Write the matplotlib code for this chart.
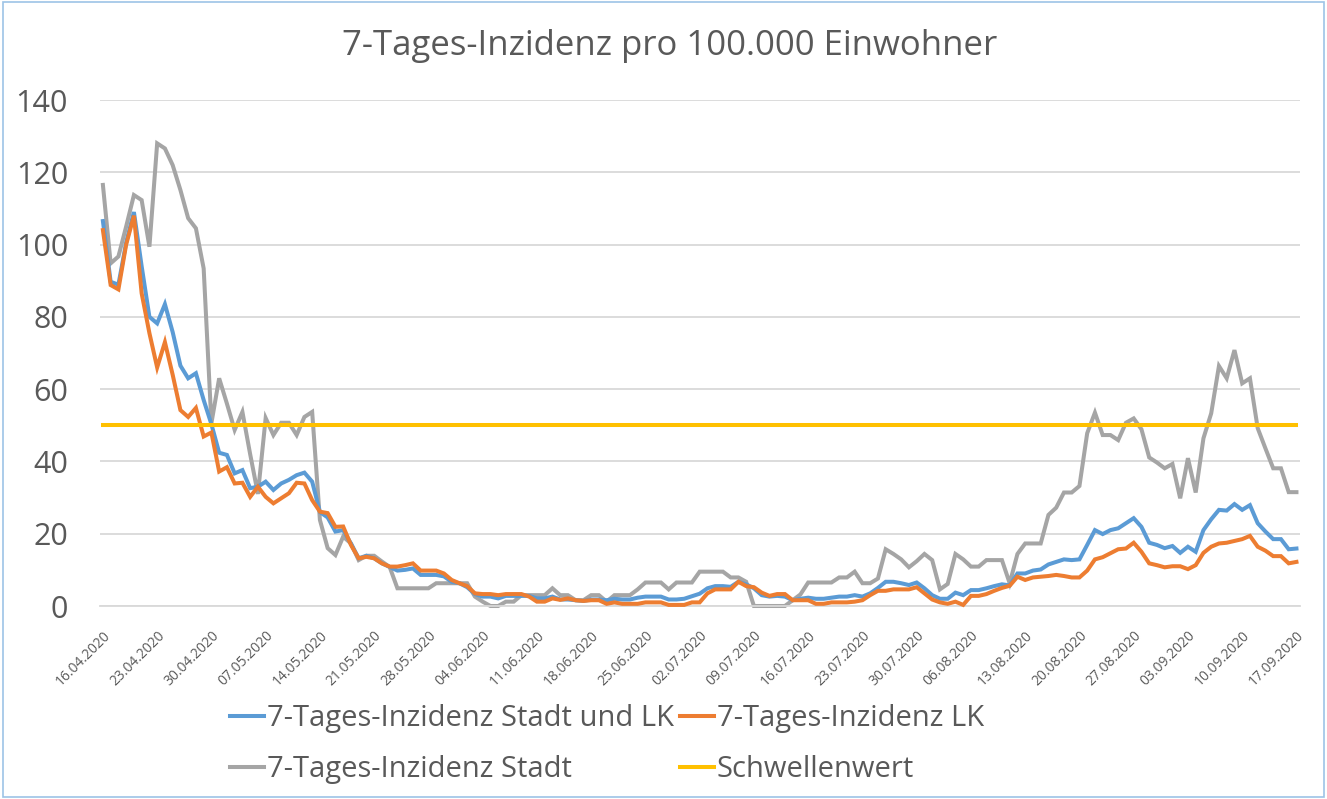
import pandas as pd
import matplotlib
matplotlib.use('Agg')
import matplotlib.pyplot as plt
import matplotlib.dates as mdates
from matplotlib.patches import Rectangle

# Tageswerte 16.04.2020 - 17.09.2020
start_date = '2020-04-16'

stadt_und_lk = [
    106.5, 89.7, 88.9, 100.5, 109, 94, 80, 78.2, 83.5, 75.8,
    66.5, 63, 64.4, 57, 50.3, 42.4, 41.8, 36.7, 37.6, 32.6,
    33, 34.4, 32.1, 33.9, 34.9, 36.2, 36.9, 34.4, 26, 24.5,
    20.6, 21, 17.3, 13.2, 13.9, 13.2, 11.8, 10.8, 9.8, 10,
    10.4, 8.6, 8.6, 8.6, 8.2, 6.7, 6.3, 5.2, 3.3, 2.6,
    2.6, 2.1, 2.8, 2.8, 2.8, 2.8, 2.1, 2.1, 2.6, 1.8,
    1.8, 1.6, 1.4, 1.8, 1.8, 1.6, 2.0, 1.8, 1.8, 2.3,
    2.6, 2.6, 2.6, 1.8, 1.8, 2.0, 2.7, 3.4, 4.9, 5.5,
    5.5, 5.3, 6.7, 6.0, 4.9, 3.0, 2.6, 2.8, 2.6, 1.6,
    2.0, 2.3, 2.0, 2.0, 2.3, 2.6, 2.6, 3.0, 2.6, 3.5,
    5.0, 6.7, 6.7, 6.3, 5.8, 6.5, 4.9, 3.0, 2.0, 2.0,
    3.7, 3.0, 4.4, 4.4, 4.9, 5.5, 6.0, 5.7, 9.0, 9.0,
    9.8, 10.1, 11.5, 12.2, 12.9, 12.7, 12.9, 16.9, 21.0, 19.9,
    21.0, 21.5, 22.9, 24.3, 21.9, 17.5, 16.9, 16.0, 16.6, 14.7,
    16.4, 15.0, 21.0, 24.0, 26.6, 26.4, 28.2, 26.6, 27.9, 22.9,
    20.6, 18.5, 18.5, 15.7, 15.9,
]

lk = [
    104, 88.8, 87.6, 100, 108, 86.5, 75.5, 66, 73, 64,
    54.2, 52.3, 54.8, 46.9, 48, 37.2, 38.4, 33.9, 34.1, 30.2,
    33, 30.2, 28.4, 29.8, 31.2, 34.1, 33.9, 29.3, 26.1, 25.7,
    21.9, 22, 16.9, 13.2, 13.6, 13.2, 11.8, 10.9, 10.9, 11.3,
    11.8, 9.8, 9.8, 9.8, 9.0, 7.2, 6.3, 5.5, 3.5, 3.3,
    3.3, 3.0, 3.3, 3.3, 3.3, 2.6, 1.2, 1.2, 2.1, 1.7,
    2.1, 1.6, 1.4, 1.6, 1.6, 0.6, 1.0, 0.6, 0.6, 0.6,
    1.0, 1.0, 1.0, 0.3, 0.3, 0.3, 1.0, 1.0, 3.5, 4.6,
    4.6, 4.6, 6.7, 5.5, 5.2, 3.7, 2.8, 3.3, 3.3, 1.6,
    1.6, 1.6, 0.6, 0.6, 1.0, 1.0, 1.0, 1.2, 1.6, 3.0,
    4.2, 4.2, 4.6, 4.6, 4.6, 5.2, 3.5, 1.8, 1.0, 0.6,
    1.2, 0.3, 2.8, 2.8, 3.3, 4.2, 5.0, 5.6, 8.1, 7.2,
    7.9, 8.1, 8.3, 8.6, 8.3, 7.9, 7.9, 9.8, 12.9, 13.5,
    14.6, 15.7, 15.9, 17.5, 15.0, 11.8, 11.3, 10.7, 11.0, 11.0,
    10.2, 11.3, 14.7, 16.4, 17.3, 17.5, 18.0, 18.5, 19.4, 16.4,
    15.3, 13.8, 13.8, 11.8, 12.2,
]

stadt = [
    116.5, 94.8, 96.7, 105, 113.7, 112.3, 99.4, 128, 126.6, 122,
    115.1, 107.3, 104.5, 93.4, 50.6, 63, 56, 48.7, 53.7, 42,
    31, 52, 47.3, 50.7, 50.7, 47.3, 52.3, 53.7, 23.8, 16,
    14.1, 19.2, 17.3, 12.7, 13.9, 13.9, 12.3, 10.8, 4.9, 4.9,
    4.9, 4.9, 4.9, 6.3, 6.3, 6.3, 6.3, 6.3, 2.6, 1.2,
    0, 0, 1.2, 1.2, 3.0, 3.0, 3.0, 3.0, 4.9, 3.0,
    3.0, 1.6, 1.6, 3.0, 3.0, 1.2, 3.0, 3.0, 3.0, 4.6,
    6.5, 6.5, 6.5, 4.6, 6.5, 6.5, 6.5, 9.5, 9.5, 9.5,
    9.5, 7.9, 7.9, 6.7, 0, 0, 0, 0, 0, 1.6,
    3.2, 6.5, 6.5, 6.5, 6.5, 7.9, 7.9, 9.5, 6.3, 6.3,
    7.6, 15.7, 14.4, 12.9, 10.7, 12.4, 14.4, 12.7, 4.6, 6.1,
    14.4, 12.9, 10.9, 10.9, 12.7, 12.7, 12.7, 6.3, 14.4, 17.3,
    17.3, 17.3, 25.2, 27.2, 31.4, 31.4, 33.2, 47.8, 53.5, 47.3,
    47.3, 45.9, 50.7, 51.9, 48.9, 41.1, 39.7, 38.1, 39.3, 29.8,
    40.9, 31.4, 46.4, 53.3, 66.4, 63, 70.8, 61.6, 63, 49.2,
    43.6, 38.1, 38.1, 31.5, 31.5,
]

schwellenwert = 50

labels = [
    '7-Tages-Inzidenz Stadt und LK',
    '7-Tages-Inzidenz LK',
    '7-Tages-Inzidenz Stadt',
    'Schwellenwert',
]
colors = ['#5B9BD5', '#ED7D31', '#A5A5A5', '#FFC000']
text_color = '#595959'

plt.rcParams['font.family'] = ['Open Sans', 'DejaVu Sans']

dates = pd.date_range(start_date, periods=len(stadt_und_lk), freq='D')

fig = plt.figure(figsize=(13.27, 7.99), dpi=100)
ax = fig.add_axes([100 / 1327, 193 / 799, 1200 / 1327, 506 / 799])

lw = 2.9
l_blue, = ax.plot(dates, stadt_und_lk, color=colors[0], lw=lw, clip_on=False,
                  solid_joinstyle='miter', zorder=3)
l_orange, = ax.plot(dates, lk, color=colors[1], lw=lw, clip_on=False,
                    solid_joinstyle='miter', zorder=4)
l_gray, = ax.plot(dates, stadt, color=colors[2], lw=lw, clip_on=False,
                  solid_joinstyle='miter', zorder=2)
l_yellow, = ax.plot(dates, [schwellenwert] * len(dates), color=colors[3],
                    lw=lw, zorder=5)

ax.set_xlim(dates[0] - pd.Timedelta(hours=9), dates[-1] + pd.Timedelta(hours=11))
ax.set_ylim(0, 140)
ax.set_yticks(range(0, 141, 20))
ax.set_xticks(dates[::7])
ax.xaxis.set_major_formatter(mdates.DateFormatter('%d.%m.%Y'))

ax.grid(axis='y', color='#D9D9D9', lw=1.3)
ax.set_axisbelow(True)
for side in ['top', 'right', 'left']:
    ax.spines[side].set_visible(False)
ax.spines['bottom'].set_color('#D9D9D9')
ax.spines['bottom'].set_linewidth(1.3)

ax.tick_params(axis='y', length=0, pad=23, labelsize=22, labelcolor=text_color)
ax.tick_params(axis='x', length=0, pad=16, labelsize=10, labelcolor=text_color)
for lab in ax.get_xticklabels():
    lab.set_rotation(45)
    lab.set_ha('right')
    lab.set_rotation_mode('anchor')

fig.text(670 / 1327, 1 - 46 / 799, '7-Tages-Inzidenz pro 100.000 Einwohner',
         ha='center', va='center', fontsize=25, color=text_color)

fig.legend([l_blue, l_gray, l_orange, l_yellow],
           [labels[0], labels[2], labels[1], labels[3]],
           ncol=2, loc='center', bbox_to_anchor=(607 / 1327, 1 - 744 / 799),
           frameon=False, fontsize=21, labelcolor=text_color,
           handlelength=1.16, handletextpad=0.1, columnspacing=0.2,
           labelspacing=0.76)

fig.patches.append(Rectangle((0.002, 0.002), 0.996, 0.996, transform=fig.transFigure,
                             fill=False, edgecolor='#9DC3E6', lw=1.2))

fig.savefig('out.png', dpi=100, facecolor='white')
